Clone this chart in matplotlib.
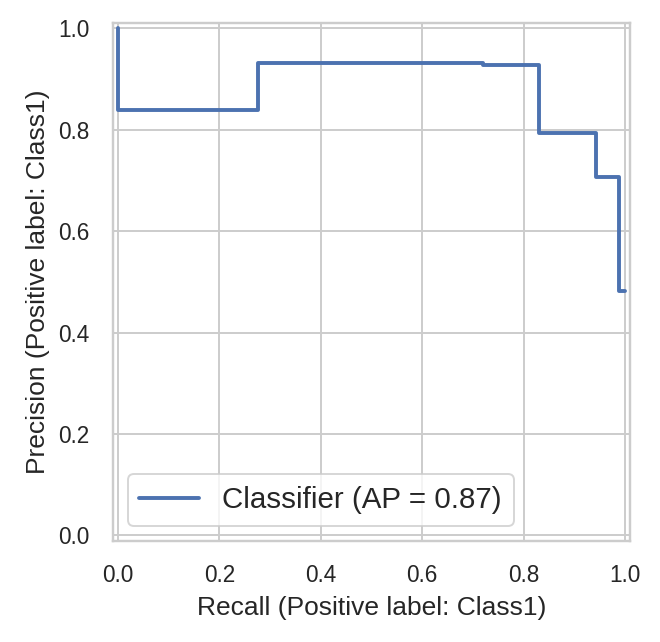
import matplotlib
matplotlib.use("Agg")
import matplotlib.pyplot as plt
import seaborn as sns

# precision-recall curve points (recall decreasing, as sklearn returns them)
recall = [1.0, 0.987, 0.943, 0.831, 0.72, 0.277, 0.0]
precision = [0.482, 0.706, 0.794, 0.928, 0.931, 0.838, 1.0]
ap_label = "Classifier (AP = 0.87)"
pos_label = "Class1"

sns.set_theme(style="whitegrid")
plt.rcParams["font.family"] = ["Liberation Sans", "DejaVu Sans"]

dpi = 140
fig = plt.figure(figsize=(660 / dpi, 642 / dpi), dpi=dpi)
ax = fig.add_axes([0.171, 0.158, 0.784, 0.806])

ax.plot(recall, precision, drawstyle="steps-post", color="#4c72b0",
        linewidth=2.0, label=ap_label)

ax.set_xlim(-0.01, 1.01)
ax.set_ylim(-0.01, 1.01)
ax.set_xticks([0.0, 0.2, 0.4, 0.6, 0.8, 1.0])
ax.set_yticks([0.0, 0.2, 0.4, 0.6, 0.8, 1.0])
ax.tick_params(labelsize=11.6, length=0, pad=12)
ax.set_xlabel(f"Recall (Positive label: {pos_label})", fontsize=13.6, labelpad=4.5)
ax.set_ylabel(f"Precision (Positive label: {pos_label})", fontsize=13.6, labelpad=4)
ax.legend(loc="lower left", fontsize=15.2)

fig.savefig("out.png", dpi=dpi)
